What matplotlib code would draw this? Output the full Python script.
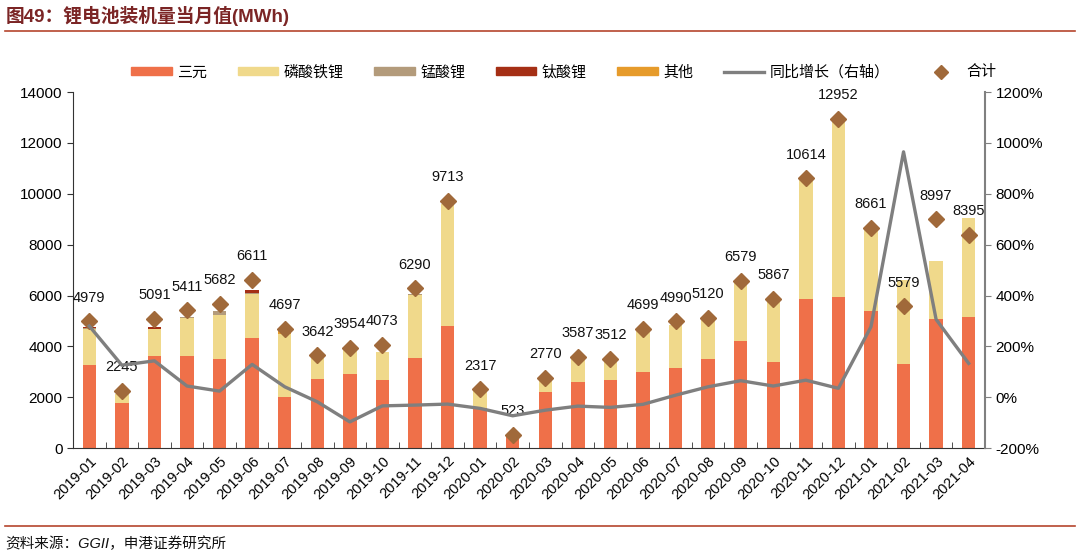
import matplotlib
matplotlib.use('Agg')
import matplotlib.pyplot as plt
from matplotlib.patches import Patch
from matplotlib.lines import Line2D
import numpy as np

plt.rcParams['font.family'] = ['Liberation Sans', 'Noto Sans CJK SC', 'DejaVu Sans']

# 月份
months = ['2019-01', '2019-02', '2019-03', '2019-04', '2019-05', '2019-06', '2019-07',
          '2019-08', '2019-09', '2019-10', '2019-11', '2019-12', '2020-01', '2020-02',
          '2020-03', '2020-04', '2020-05', '2020-06', '2020-07', '2020-08', '2020-09',
          '2020-10', '2020-11', '2020-12', '2021-01', '2021-02', '2021-03', '2021-04']

# 各类电池装机量 (MWh)
sanyuan = [3260, 1780, 3630, 3630, 3500, 4340, 2000, 2730, 2900, 2670, 3540, 4800,
           1560, 440, 2210, 2600, 2670, 2980, 3160, 3500, 4220, 3390, 5850, 5950,
           5400, 3300, 5080, 5150]
lfp = [1420, 340, 1040, 1490, 1730, 1710, 2470, 820, 990, 1100, 2480, 4800,
       760, 60, 540, 940, 830, 1690, 1680, 1580, 2350, 2460, 4730, 6980,
       3240, 3300, 2270, 3910]
mn = [30, 0, 0, 50, 160, 50, 30, 0, 0, 0, 30, 0,
      0, 0, 0, 0, 0, 0, 0, 0, 0, 0, 0, 0, 0, 0, 0, 0]
ti = [60, 0, 80, 0, 0, 100, 0, 0, 0, 0, 0, 0,
      0, 0, 0, 0, 0, 0, 0, 0, 0, 0, 0, 0, 0, 0, 20, 0]
other = [0, 0, 0, 0, 0, 0, 170, 0, 0, 0, 0, 0,
         0, 0, 0, 0, 0, 0, 0, 0, 0, 0, 0, 0, 0, 0, 0, 0]

# 合计与同比
totals = [4979, 2245, 5091, 5411, 5682, 6611, 4697, 3642, 3954, 4073, 6290, 9713,
          2317, 523, 2770, 3587, 3512, 4699, 4990, 5120, 6579, 5867, 10614, 12952,
          8661, 5579, 8997, 8395]
yoy = [280, 126, 143, 44, 24, 129, 41, -18, -97, -34, -31, -27,
       -44, -73, -51, -35, -40, -28, 8, 41, 65, 44, 67, 35,
       277, 965, 306, 133]

c_sy = '#EF7049'
c_lfp = '#F0D98B'
c_mn = '#B39B7B'
c_ti = '#A52F15'
c_other = '#E69B2B'
c_line = '#7F7F7F'
c_tot = '#A0693A'
title_red = '#7B2525'
rule_red = '#B5462E'

fig = plt.figure(figsize=(10.8, 5.58), dpi=100)
ax = fig.add_axes([0.0676, 0.197, 0.8444, 0.638])
ax2 = ax.twinx()

x = np.arange(len(months))
w = 0.41
b = np.zeros(len(months))
series = [(sanyuan, c_sy), (lfp, c_lfp), (mn, c_mn), (ti, c_ti), (other, c_other)]
for vals, col in series:
    ax.bar(x, vals, w, bottom=b, color=col, zorder=2)
    b = b + np.array(vals)

ax.plot(x, totals, linestyle='none', marker='D', markersize=8.5, color=c_tot, zorder=4)
for xi, t in zip(x, totals):
    ax.annotate(str(t), (xi, t), xytext=(0, 17), textcoords='offset points',
                ha='center', va='center', fontsize=10.5, color='#111111', zorder=5)

ax2.plot(x, yoy, color=c_line, linewidth=2.4, zorder=3)

ax.set_xlim(-0.5, len(months) - 0.5)
ax.set_ylim(0, 14000)
ax.set_yticks(np.arange(0, 14001, 2000))
ax2.set_ylim(-200, 1200)
ax2.set_yticks(np.arange(-200, 1201, 200))
ax2.set_yticklabels([f'{v}%' for v in range(-200, 1201, 200)])

ax.set_xticks(x)
ax.set_xticklabels(months, rotation=45, ha='right', rotation_mode='anchor', fontsize=10.5)
ax.tick_params(axis='x', length=0, pad=4)
ax.set_xticks(np.arange(-0.5, len(months), 1), minor=True)
ax.tick_params(axis='x', which='minor', direction='in', length=4, color='#333333')
ax.tick_params(axis='y', labelsize=11, length=4, color='#333333')
ax2.tick_params(axis='y', labelsize=11, length=4, color='#808080')

for s in ['top', 'right']:
    ax.spines[s].set_visible(False)
ax.spines['left'].set_color('#333333')
ax.spines['bottom'].set_color('#333333')
for s in ['top', 'left', 'bottom']:
    ax2.spines[s].set_visible(False)
ax2.spines['right'].set_color('#808080')
ax2.spines['right'].set_linewidth(1.5)

handles = [Patch(color=c_sy), Patch(color=c_lfp), Patch(color=c_mn), Patch(color=c_ti),
           Patch(color=c_other), Line2D([], [], color=c_line, linewidth=2.4),
           Line2D([], [], linestyle='none', marker='D', markersize=7, color=c_tot)]
labels = ['三元', '磷酸铁锂', '锰酸锂', '钛酸锂', '其他', '同比增长（右轴）', '合计']
fig.legend(handles, labels, loc='center', bbox_to_anchor=(0.522, 0.871), ncol=7,
           frameon=False, fontsize=10.8, handlelength=2.7, handleheight=0.42,
           columnspacing=2.05, handletextpad=0.35)

fig.text(0.005, 0.972, '图49：锂电池装机量当月值(MWh)', fontsize=13.5, fontweight='bold',
         color=title_red, va='center', ha='left')
fig.add_artist(Line2D([0.005, 0.995], [0.944, 0.944], color=rule_red, linewidth=1.2))
fig.add_artist(Line2D([0.005, 0.995], [0.057, 0.057], color=rule_red, linewidth=1.2))
fig.text(0.005, 0.026, '资料来源：GGII，申港证券研究所', fontsize=10.5, style='italic',
         color='#111111', va='center', ha='left')

fig.savefig('out.png', dpi=100)
